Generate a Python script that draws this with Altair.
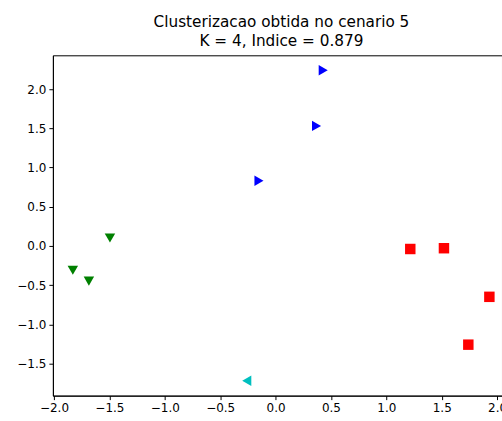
import altair as alt
import pandas as pd

x_vals = [0.43, 0.37, -0.15, -1.495, -1.83, -1.685, 1.216, 1.52, 1.93, 1.74, -0.26]
y_vals = [2.24, 1.53, 0.83, 0.10, -0.31, -0.45, -0.04, -0.03, -0.65, -1.26, -1.72]
cluster = ["A", "A", "A", "B", "B", "B", "C", "C", "C", "C", "D"]

clusters = ["A", "B", "C", "D"]
colors = ["#0000ff", "#008000", "#ff0000", "#00bfbf"]
shapes = ["triangle-right", "triangle-down", "square", "triangle-left"]
sizes = [110, 110, 72, 110]

df = pd.DataFrame({"x": x_vals, "y": y_vals, "cluster": cluster})

axis_style = dict(labelFont="DejaVu Sans", labelFontSize=12, labelColor="black",
                  domainColor="black", tickColor="black", tickSize=4, labelPadding=3,
                  labelFlush=False, labelOverlap=False, title=None, grid=False, format=".1f")

W, H = 450, 341
chart = alt.Chart(df).mark_point(filled=True, opacity=1).encode(
    x=alt.X("x:Q", scale=alt.Scale(domain=[-2.01, 2.044], nice=False, zero=False),
            axis=alt.Axis(values=[-2.0, -1.5, -1.0, -0.5, 0.0, 0.5, 1.0, 1.5, 2.0], **axis_style)),
    y=alt.Y("y:Q", scale=alt.Scale(domain=[-1.91, 2.43], nice=False, zero=False),
            axis=alt.Axis(values=[-1.5, -1.0, -0.5, 0.0, 0.5, 1.0, 1.5, 2.0], **axis_style)),
    color=alt.Color("cluster:N", scale=alt.Scale(domain=clusters, range=colors), legend=None),
    shape=alt.Shape("cluster:N", scale=alt.Scale(domain=clusters, range=shapes), legend=None),
    size=alt.Size("cluster:N", scale=alt.Scale(domain=clusters, range=sizes), legend=None),
).properties(
    width=W, height=H,
    title=alt.TitleParams(text=["Clusterizacao obtida no cenario 5", "K = 4, Indice = 0.879"],
                          fontSize=15.3, font="DejaVu Sans", fontWeight="normal", color="black",
                          lineHeight=19, anchor="middle", dx=4, offset=6),
    autosize=alt.AutoSizeParams(type="none"),
    padding={"left": 53, "top": 55, "right": 0, "bottom": 25},
    background="white",
).configure_view(stroke="black", strokeWidth=1)

chart.save("out.html", embed_options={"renderer": "svg", "actions": False})
